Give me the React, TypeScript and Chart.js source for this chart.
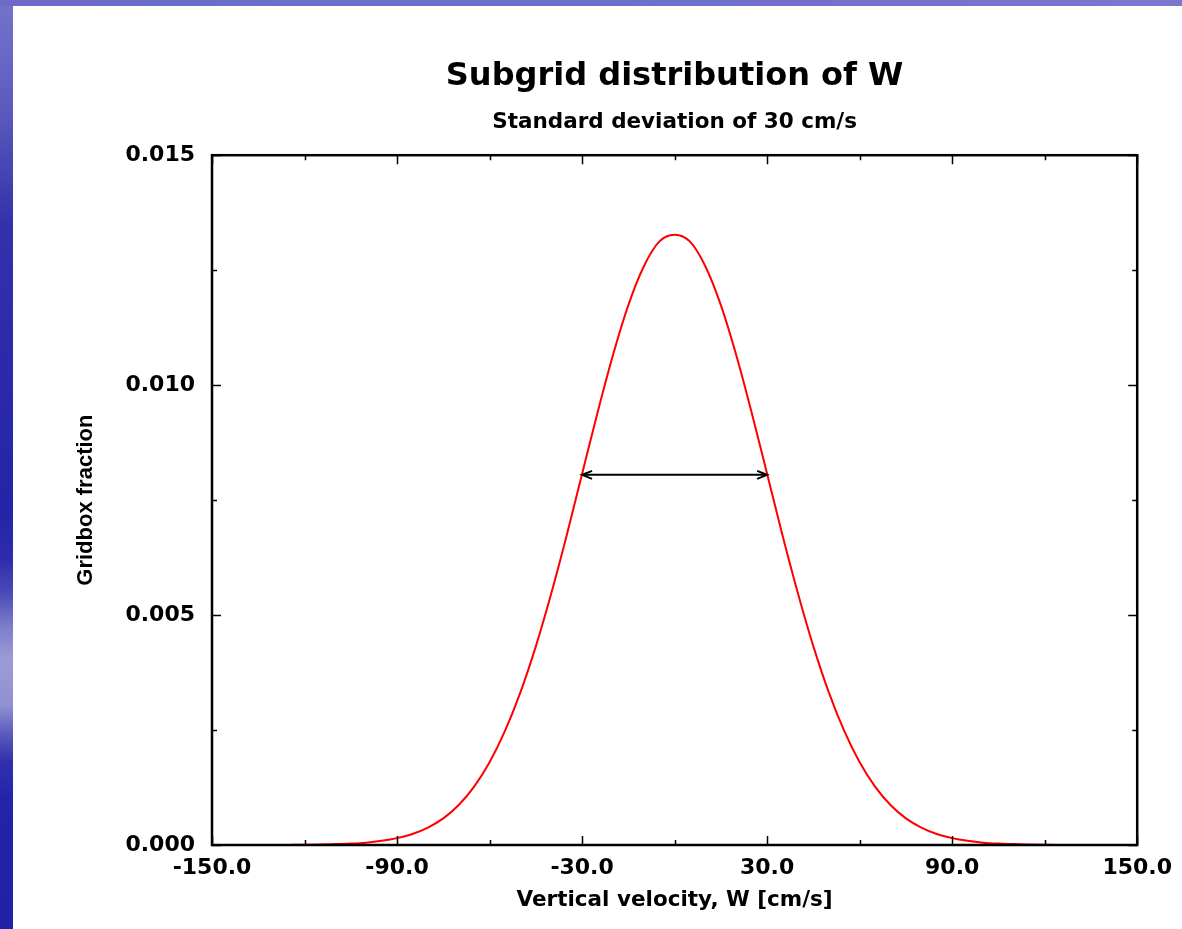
import React, { useEffect, useRef } from "react";
import { Chart, registerables } from "chart.js";

Chart.register(...registerables);

// ---- data ----
const velocities = [
  -125, -120, -115, -110, -105, -100, -95, -90, -85, -80, -75, -70, -65, -60, -55, -50, -45, -40, -35, -30, -25, -20, -15, -10, -5,
  0, 5, 10, 15, 20, 25, 30, 35, 40, 45, 50, 55, 60, 65, 70, 75, 80, 85, 90, 95, 100, 105, 110, 115, 120, 125,
];
const fractions = [
  0.000002, 0.000005, 0.00001, 0.00002, 0.00003, 0.00005, 0.00009, 0.00015, 0.00024, 0.00038, 0.00058, 0.00087, 0.00127,
  0.0018, 0.00248, 0.00332, 0.00432, 0.00547, 0.00673, 0.00807, 0.0094, 0.01065, 0.01174, 0.01258, 0.01312,
  0.01327,
  0.01312, 0.01258, 0.01174, 0.01065, 0.0094, 0.00807, 0.00673, 0.00547, 0.00432, 0.00332, 0.00248, 0.0018,
  0.00127, 0.00087, 0.00058, 0.00038, 0.00024, 0.00015, 0.00009, 0.00005, 0.00003, 0.00002, 0.00001, 0.000005, 0.000002,
];
const xMajorTicks = [-150, -90, -30, 30, 90, 150];
const xMinorTicks = [-120, -60, 0, 60, 120];
const yMajorTicks = [0, 0.005, 0.01, 0.015];
const yMinorTicks = [0.0025, 0.0075, 0.0125];
const arrowX = [-30, 30];
const arrowY = [0.00805, 0.00805];

const titleText = "Subgrid distribution of W";
const subtitleText = "Standard deviation of 30 cm/s";
const xTitleText = "Vertical velocity, W [cm/s]";
const yTitleText = "Gridbox fraction";

const FONT = "'DejaVu Sans', sans-serif";
const FONT_Y = "'Liberation Sans', Arial, sans-serif";

const framePlugin = {
  id: "gnuplotFrame",
  afterDatasetsDraw(chart: any) {
    const { ctx, chartArea: a, scales } = chart;
    const xs = scales.x;
    const ys = scales.y;
    ctx.save();
    ctx.strokeStyle = "#000";
    ctx.fillStyle = "#000";
    ctx.lineWidth = 1.5;
    const drawX = (vals: number[], len: number) => {
      vals.forEach((v) => {
        const px = Math.round(xs.getPixelForValue(v)) + 0.5;
        ctx.beginPath();
        ctx.moveTo(px, a.bottom);
        ctx.lineTo(px, a.bottom - len);
        ctx.moveTo(px, a.top);
        ctx.lineTo(px, a.top + len);
        ctx.stroke();
      });
    };
    const drawY = (vals: number[], len: number) => {
      vals.forEach((v) => {
        const py = Math.round(ys.getPixelForValue(v)) + 0.5;
        ctx.beginPath();
        ctx.moveTo(a.left, py);
        ctx.lineTo(a.left + len, py);
        ctx.moveTo(a.right, py);
        ctx.lineTo(a.right - len, py);
        ctx.stroke();
      });
    };
    drawX(xMajorTicks, 9);
    drawX(xMinorTicks, 5);
    drawY(yMajorTicks, 9);
    drawY(yMinorTicks, 5);
    ctx.lineWidth = 2.5;
    ctx.strokeRect(a.left, a.top, a.right - a.left, a.bottom - a.top);
    const x0 = xs.getPixelForValue(arrowX[0]);
    const x1 = xs.getPixelForValue(arrowX[1]);
    const y0 = ys.getPixelForValue(arrowY[0]);
    const y1 = ys.getPixelForValue(arrowY[1]);
    ctx.lineWidth = 2;
    const head = (tx: number, ty: number, dir: number) => {
      ctx.beginPath();
      ctx.moveTo(tx + dir * 10, ty - 4);
      ctx.lineTo(tx, ty);
      ctx.lineTo(tx + dir * 10, ty + 4);
      ctx.stroke();
    };
    head(x0, y0, 1);
    head(x1, y1, -1);
    ctx.restore();
  },
};

export default function App() {
  const canvasRef = useRef<HTMLCanvasElement | null>(null);

  useEffect(() => {
    document.body.style.margin = "0";
    const canvas = canvasRef.current;
    if (!canvas) return;
    const chart = new Chart(canvas, {
      type: "line",
      data: {
        datasets: [
          {
            data: velocities.map((v, i) => ({ x: v, y: fractions[i] })),
            borderColor: "#ff0000",
            borderWidth: 2,
            pointRadius: 0,
            cubicInterpolationMode: "monotone",
            fill: false,
          },
          {
            data: arrowX.map((v, i) => ({ x: v, y: arrowY[i] })),
            borderColor: "#000000",
            borderWidth: 2,
            pointRadius: 0,
            fill: false,
          },
        ],
      },
      options: {
        responsive: false,
        animation: false,
        devicePixelRatio: 1,
        events: [],
        layout: { padding: { left: 0, right: 44, top: 0, bottom: 0 } },
        plugins: {
          legend: { display: false },
          tooltip: { enabled: false },
          title: {
            display: true,
            text: titleText,
            fullSize: false,
            color: "#000",
            font: { family: FONT, size: 32, weight: "bold", lineHeight: 1.2 },
            padding: { top: 57, bottom: 0 },
          },
          subtitle: {
            display: true,
            text: subtitleText,
            fullSize: false,
            color: "#000",
            font: { family: FONT, size: 21.5, weight: "bold", lineHeight: 1.2 },
            padding: { top: 14, bottom: 20 },
          },
        },
        scales: {
          x: {
            type: "linear",
            min: -150,
            max: 150,
            grid: { display: false, drawTicks: false },
            border: { display: false },
            afterBuildTicks: (s: any) => {
              s.ticks = xMajorTicks.map((v) => ({ value: v }));
            },
            afterFit: (s: any) => {
              s.height = 84;
            },
            ticks: {
              autoSkip: false,
              maxRotation: 0,
              padding: 10,
              color: "#000",
              font: { family: FONT, size: 22, weight: "bold", lineHeight: 1.2 },
              callback: (v: any) => Number(v).toFixed(1),
            },
            title: {
              display: true,
              text: xTitleText,
              color: "#000",
              font: { family: FONT, size: 21.5, weight: "bold", lineHeight: 1.2 },
              padding: { top: 0, bottom: 16 },
            },
          },
          y: {
            type: "linear",
            min: 0,
            max: 0.015,
            grid: { display: false, drawTicks: false },
            border: { display: false },
            afterBuildTicks: (s: any) => {
              s.ticks = yMajorTicks.map((v) => ({ value: v }));
            },
            afterFit: (s: any) => {
              s.width = 212;
            },
            ticks: {
              padding: 17,
              color: "#000",
              font: { family: FONT, size: 22, weight: "bold", lineHeight: 1.2 },
              callback: (v: any) => Number(v).toFixed(3),
            },
            title: {
              display: true,
              text: yTitleText,
              color: "#000",
              font: { family: FONT_Y, size: 22, weight: "bold", lineHeight: 1.2 },
              padding: { top: 73, bottom: 0 },
            },
          },
        },
      },
      plugins: [framePlugin],
    } as any);
    return () => chart.destroy();
  }, []);

  const leftGradient =
    "linear-gradient(to bottom, #7474cc 0%, #6868c6 6%, #5a5abe 12%, #4646b4 18%, #3232ac 24%, #2a2aaa 40%, #2424a8 55%, #2c2cac 60%, #4c4cb8 64%, #7878c8 67%, #9c9cd8 71%, #9090d2 76%, #5a5abc 79%, #3030ae 82%, #2424aa 86%, #2020a8 100%)";

  return (
    <div style={{ position: "fixed", left: 0, top: 0, width: 1182, height: 929, background: leftGradient, overflow: "hidden" }}>
      <div
        style={{
          position: "absolute",
          left: 0,
          top: 0,
          width: 1182,
          height: 6,
          background: "linear-gradient(to right, #6c6cc8, #6e6ecc 50%, #7878d0)",
        }}
      />
      <div style={{ position: "absolute", left: 13, top: 6, right: 0, bottom: 0, background: "#ffffff" }} />
      <canvas ref={canvasRef} width={1182} height={929} style={{ position: "absolute", left: 0, top: 0 }} />
    </div>
  );
}
